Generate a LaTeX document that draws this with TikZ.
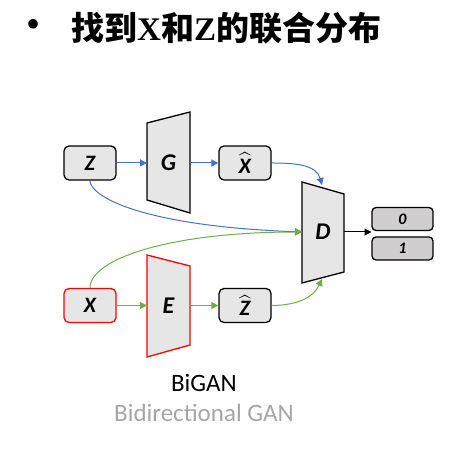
\documentclass[tikz,border=0pt]{standalone}
\usepackage{exscale}
\usepackage{fontspec}
\setmainfont{Liberation Serif}
\setsansfont{Carlito}
\newfontfamily\cjk{Noto Sans CJK SC}
\usepackage{tikz}
\usetikzlibrary{arrows.meta,calc,positioning}
\definecolor{boxgray}{HTML}{E7E6E6}
\definecolor{outgray}{HTML}{D0CECE}
\definecolor{linkblue}{HTML}{4472C4}
\definecolor{linkgreen}{HTML}{70AD47}
\definecolor{capgray}{HTML}{A6A6A6}

\begin{document}
\begin{tikzpicture}[x=1pt,y=1pt,>={Triangle[length=7pt,width=7pt]},
    varbox/.style={draw=black,line width=1.3pt,fill=boxgray,rounded corners=5pt,
      minimum width=52pt,minimum height=34pt,inner sep=0pt,
      font=\fontsize{22}{24}\selectfont\sffamily\bfseries\itshape},
    outbox/.style={draw=black,line width=1.3pt,fill=outgray,rounded corners=4pt,
      minimum width=61pt,minimum height=23pt,inner sep=0pt,
      font=\fontsize{16}{18}\selectfont\sffamily\bfseries\itshape},
    netshape/.style={draw=black,line width=1.3pt,fill=boxgray,line join=miter},
    netlbl/.style={font=\fontsize{24}{26}\selectfont\sffamily\bfseries\itshape},
    blueflow/.style={->,draw=linkblue,line width=1pt},
    greenflow/.style={->,draw=linkgreen,line width=1pt}]
    \useasboundingbox (0,0) rectangle (469,454);
    \node[font=\fontsize{40}{42}\selectfont] (bul) at (33.5,425) {•};
    \node[anchor=west,inner sep=0pt,font=\fontsize{33}{35}\selectfont\bfseries] (title) at (71,426)
      {{\cjk 找到}X{\cjk 和}Z{\cjk 的联合分布}};
    % generator branch
    \node[varbox] (Z) at (90,291) {Z};
    \draw[netshape] (147,331) -- (190,342) -- (190,241) -- (147,254) -- cycle;
    \node[netlbl] (G) at (168.5,291) {G};
    \coordinate (G-in) at (147,291);
    \coordinate (G-out) at (190,291);
    \node[varbox] (Xh) at (245,291) {$\widehat{\mbox{\fontsize{22}{24}\selectfont\sffamily\bfseries\itshape X}}$};
    % encoder branch
    \node[varbox,draw=red] (X) at (90,148.5) {X};
    \draw[netshape,draw=red] (147,199) -- (190,188) -- (190,109) -- (147,97) -- cycle;
    \node[netlbl] (E) at (168.5,148) {E};
    \coordinate (E-in) at (147,148.5);
    \coordinate (E-out) at (190,148.5);
    \node[varbox] (Zh) at (245,148.5) {$\widehat{\mbox{\fontsize{22}{24}\selectfont\sffamily\bfseries\itshape Z}}$};
    % discriminator
    \draw[netshape] (302,272) -- (344,260) -- (344,182) -- (302,171) -- cycle;
    \node[netlbl] (D) at (323,222) {D};
    \coordinate (D-in) at (302,222);
    \coordinate (D-top) at (322,269);
    \coordinate (D-bot) at (322,175);
    \coordinate (D-out) at (344,222);
    \coordinate (O-in) at (371.5,222);
    \node[outbox] (o0) at (402.5,235) {0};
    \node[outbox] (o1) at (402.5,205.5) {1};
    % connectors
    \draw[blueflow] (Z) -- (G-in);
    \draw[blueflow] (G-out) -- (Xh);
    \draw[blueflow] (Xh.east) to[out=0,in=105] (D-top);
    \draw[blueflow] (Z.south) .. controls (90,258) and (140,228) .. (D-in);
    \draw[greenflow] (X) -- (E-in);
    \draw[greenflow] (E-out) -- (Zh);
    \draw[greenflow] (Zh.east) to[out=0,in=-115] (D-bot);
    \draw[greenflow] (X.north) .. controls (90,195) and (170,222) .. (D-in);
    \draw[->,line width=1pt] (D-out) -- (O-in);
    % caption
    \node[font=\fontsize{25}{27}\selectfont\sffamily] (cap) at (204,71) {BiGAN};
    \node[font=\fontsize{25}{27}\selectfont\sffamily,text=capgray] (sub) at (204,41) {Bidirectional GAN};
\end{tikzpicture}
\end{document}
